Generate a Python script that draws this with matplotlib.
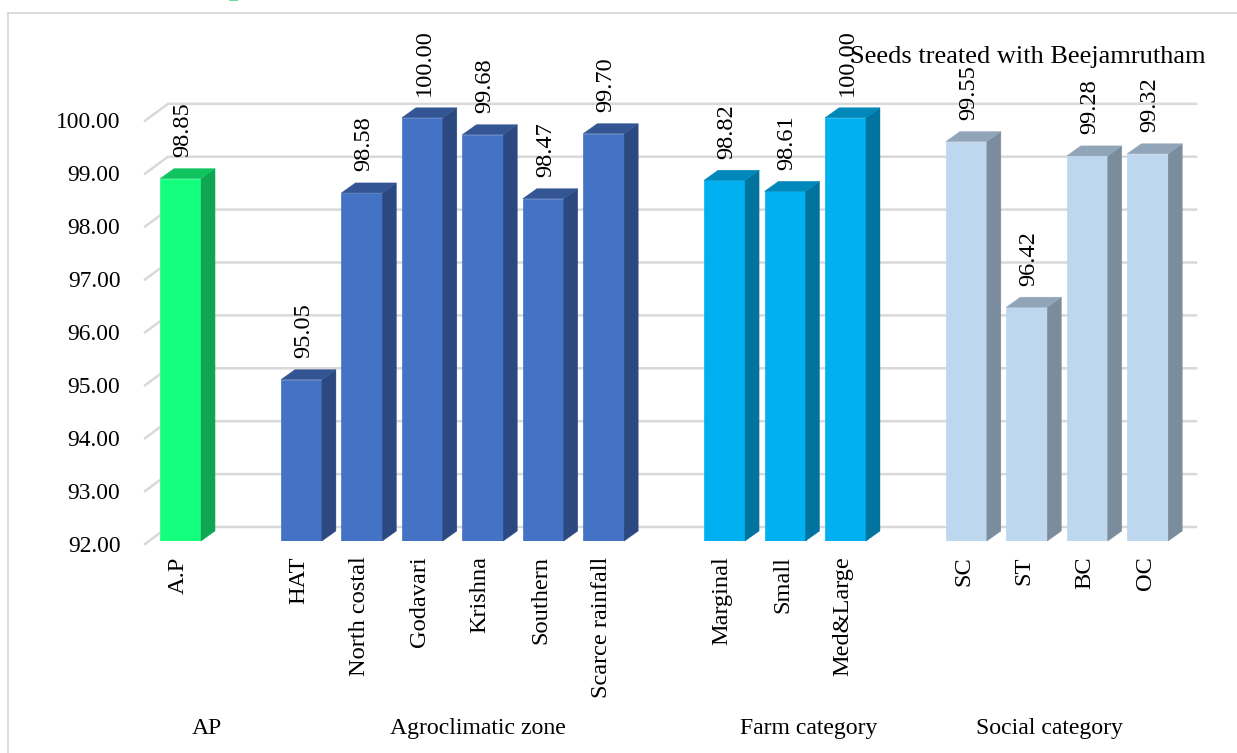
import matplotlib
matplotlib.use("Agg")
import matplotlib.pyplot as plt
from matplotlib.patches import Polygon, Rectangle
from matplotlib.transforms import ScaledTranslation

plt.rcParams["font.family"] = ["Liberation Serif", "DejaVu Serif"]

# slots 1, 8 and 12 stay empty to separate the groups
ap_slots = [0]
ap_names = ["A.P"]
ap_values = [98.85]

zone_slots = [2, 3, 4, 5, 6, 7]
zone_names = ["HAT", "North costal", "Godavari", "Krishna", "Southern", "Scarce rainfall"]
zone_values = [95.05, 98.58, 100.00, 99.68, 98.47, 99.70]

farm_slots = [9, 10, 11]
farm_names = ["Marginal", "Small", "Med&Large"]
farm_values = [98.82, 98.61, 100.00]

social_slots = [13, 14, 15, 16]
social_names = ["SC", "ST", "BC", "OC"]
social_values = [99.55, 96.42, 99.28, 99.32]

group_names = ["AP", "Agroclimatic zone", "Farm category", "Social category"]
group_centres = [207, 478, 809, 1049]

y_ticks = [92, 93, 94, 95, 96, 97, 98, 99, 100]

W, H = 1237, 753
SLOT_PX = 60.45
UNIT_PX = 52.9
GRID = "#d9d9d9"
TICK_SIZE = 16.9
LABEL_SIZE = 17.6

fig = plt.figure(figsize=(W / 100, H / 100), dpi=100)
ax = fig.add_axes([150.3 / W, 1 - 541 / H, SLOT_PX * 17 / W, UNIT_PX * 8 / H])
ax.set_xlim(-0.5, 16.5)
ax.set_ylim(92, 100)
for s in ax.spines.values():
    s.set_visible(False)
ax.patch.set_visible(False)


def px_x(n):
    return n / SLOT_PX


def px_y(n):
    return n / UNIT_PX


def draw_box(slots, values, front, side, top):
    """Front faces come from ax.bar, side and top faces are offset polygons."""
    ax.bar(slots, values, width=px_x(41), bottom=0, color=front,
           edgecolor=front, linewidth=0.5, zorder=3)
    dx, dy = px_x(14), px_y(10)
    for x, v in zip(slots, values):
        l, r = x - px_x(20.5), x + px_x(20.5)
        ax.add_patch(Polygon([(r, 92), (r + dx, 92 + dy), (r + dx, v + dy), (r, v)],
                             closed=True, fc=side, ec=side, lw=0.3, zorder=3, clip_on=False))
        ax.add_patch(Polygon([(l, v), (l + dx, v + dy), (r + dx, v + dy), (r, v)],
                             closed=True, fc=top, ec=top, lw=0.3, zorder=3, clip_on=False))
        ax.annotate(f"{v:.2f}", (x, v), xytext=(1.5, 15.5), textcoords="offset points",
                    rotation=90, ha="center", va="bottom", fontsize=LABEL_SIZE,
                    annotation_clip=False, zorder=6)


# floor and wall gridlines, pushed back in depth behind the bars
x0 = -0.5 - px_x(5.3)
for t in y_ticks:
    ax.plot([x0, x0 + px_x(23), 16.5 + px_x(18)],
            [t - px_y(3), t + px_y(14), t + px_y(14)],
            color=GRID, lw=1.8, zorder=1, clip_on=False, solid_joinstyle="miter")

draw_box(ap_slots, ap_values, "#15ff7f", "#0ea651", "#0fc45f")
draw_box(zone_slots, zone_values, "#4472c4", "#2b4880", "#345593")
draw_box(farm_slots, farm_values, "#00b0f0", "#00739e", "#0088ba")
draw_box(social_slots, social_values, "#bdd7ee", "#7b8c9c", "#90a5b8")

ax.set_ylim(92, 100)
ax.set_yticks(y_ticks, [f"{t:.2f}" for t in y_ticks], fontsize=TICK_SIZE)
ax.tick_params(axis="y", length=0, pad=21.5)

# y labels line up with the front ends of the gridlines, just under the tick
y_nudge = ScaledTranslation(0, -2.5 / 100, fig.dpi_scale_trans)
for lab in ax.get_yticklabels():
    lab.set_transform(lab.get_transform() + y_nudge)

ax.set_xticks(ap_slots + zone_slots + farm_slots + social_slots,
              ap_names + zone_names + farm_names + social_names,
              rotation=90, fontsize=LABEL_SIZE)
ax.tick_params(axis="x", length=0, pad=11)

# category names lean slightly left of the bar centres
x_nudge = ScaledTranslation(-2.5 / 100, 0, fig.dpi_scale_trans)
for lab in ax.get_xticklabels():
    lab.set_transform(lab.get_transform() + x_nudge)

# chart frame: only the top and left rules sit inside the canvas
fig.add_artist(plt.Line2D([8 / W, 8 / W], [0, 1 - 13 / H], color=GRID, lw=1.3))
fig.add_artist(plt.Line2D([8 / W, 1], [1 - 13 / H, 1 - 13 / H], color=GRID, lw=1.3))

# sliver of the heading above the frame
fig.add_artist(Rectangle((229 / W, 1 - 1.2 / H), 9 / W, 1.2 / H,
                         transform=fig.transFigure, fc="#6fdc9f", ec="none"))

fig.text(1206 / W, 1 - 57 / H, "Seeds treated with Beejamrutham", ha="right",
         va="center", fontsize=19, zorder=7)

for name, cx in zip(group_names, group_centres):
    fig.text(cx / W, 1 - 728.5 / H, name, ha="center", va="center", fontsize=17.1)

fig.savefig("out.png", dpi=100)
